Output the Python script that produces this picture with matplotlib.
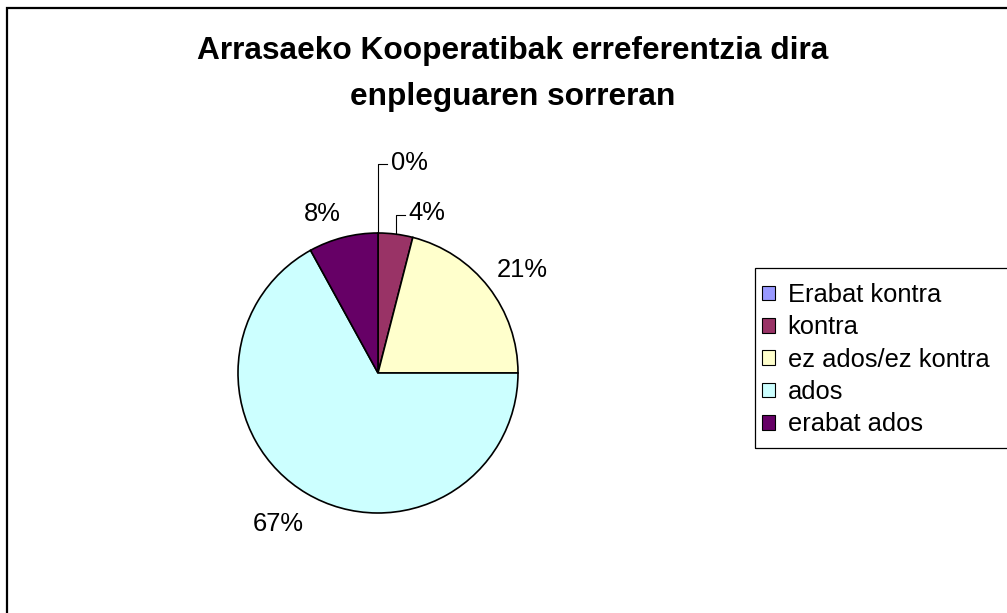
import numpy as np
import matplotlib.pyplot as plt
from matplotlib.patches import Patch, Rectangle

plt.rcParams['font.family'] = ['Liberation Sans', 'DejaVu Sans']

# data
categories = ['Erabat kontra', 'kontra', 'ez ados/ez kontra', 'ados', 'erabat ados']
values = [0, 4, 21, 67, 8]
colors = ['#9999FF', '#993366', '#FFFFCC', '#CCFFFF', '#660066']
title_lines = ['Arrasaeko Kooperatibak erreferentzia dira', 'enpleguaren sorreran']

W, H = 1007, 613
fig = plt.figure(figsize=(W / 100, H / 100), dpi=100)

# pie axes: centre (378, 373) px, radius 140 px
cx, cy, r = 378, 373, 140
ax = fig.add_axes([(cx - r) / W, (H - cy - r) / H, 2 * r / W, 2 * r / H])

wedges, _ = ax.pie(values, colors=colors, startangle=90, counterclock=False,
                   radius=1, wedgeprops=dict(edgecolor='black', linewidth=1.2))
ax.set_xlim(-1, 1)
ax.set_ylim(-1, 1)
ax.axis('off')

lab_fs = 18.4
# small slices get a callout line, elbow height per slice index
callout = {0: 1.49, 1: 1.13}
# little pixel nudges (x, y) for the outside labels
nudge = {2: (-5, 0), 3: (6, -4), 4: (2, 0)}
for i, (w, v) in enumerate(zip(wedges, values)):
    ang = np.deg2rad((w.theta1 + w.theta2) / 2)
    x, y = np.cos(ang), np.sin(ang)
    txt = f"{v}%"
    if i in callout:
        ey = callout[i]
        ax.plot([x, x, x + 0.065], [y, ey, ey], color='black', lw=0.8, clip_on=False)
        ax.text(x + 0.095, ey + 0.01, txt, ha='left', va='center', fontsize=lab_fs, clip_on=False)
    else:
        # excel style: nearest corner of the label sits just outside the rim
        ax.annotate(txt, (1.12 * x, 1.12 * y), xytext=nudge.get(i, (0, 0)),
                    textcoords='offset pixels', ha='left' if x > 0 else 'right',
                    va='baseline' if y > 0 else 'top', fontsize=lab_fs,
                    annotation_clip=False)

# title
fig.text(513 / W, 1 - 51 / H, title_lines[0], ha='center', va='center',
         fontsize=22.8, fontweight='bold')
fig.text(513 / W, 1 - 97 / H, title_lines[1], ha='center', va='center',
         fontsize=22.8, fontweight='bold')

# chart border (runs off right and bottom)
fig.add_artist(Rectangle((7 / W, -0.1), 1.2, 1 - 8 / H + 0.1, transform=fig.transFigure,
                         fill=False, edgecolor='black', linewidth=1.6))

# legend
handles = [Patch(facecolor=c, edgecolor='black', linewidth=0.8) for c in colors]
fig.legend(handles, categories, loc='upper left', bbox_to_anchor=(757 / W, 1 - 278 / H),
           frameon=False, fontsize=lab_fs, handlelength=0.5, handleheight=0.5,
           handletextpad=0.5, labelspacing=0.325, borderaxespad=0, borderpad=0.2)
fig.add_artist(Rectangle((755 / W, 1 - 448 / H), (1030 - 755) / W, 180 / H,
                         transform=fig.transFigure, fill=False, edgecolor='black', linewidth=0.9))

fig.savefig('out.png', dpi=100)
